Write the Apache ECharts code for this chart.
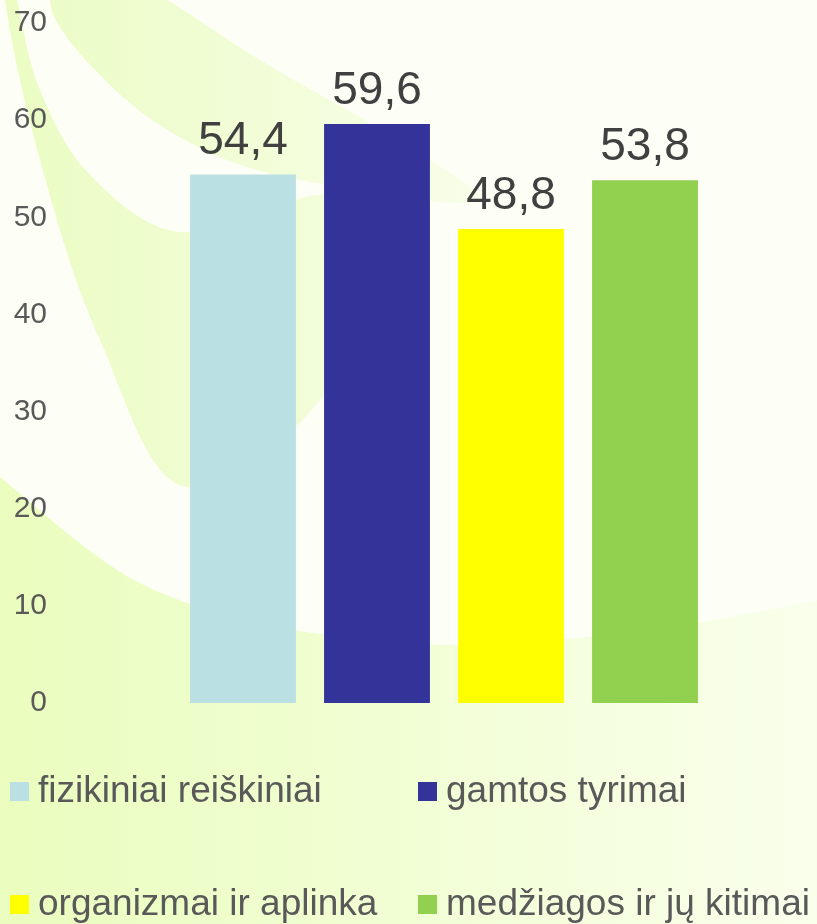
<!DOCTYPE html>
<html>
<head>
<meta charset="utf-8">
<script src="https://cdn.jsdelivr.net/npm/echarts@6/dist/echarts.min.js"></script>
<style>
  html, body { margin: 0; padding: 0; }
  #chart { width: 817px; height: 924px; }
</style>
</head>
<body>
<div id="chart"></div>
<script>
// data
const categories = ["fizikiniai reiškiniai", "gamtos tyrimai", "organizmai ir aplinka", "medžiagos ir jų kitimai"];
const values = [54.4, 59.6, 48.8, 53.8];
const colors = ["#bbe0e3", "#333399", "#ffff00", "#92d050"];
const yTicks = [0, 10, 20, 30, 40, 50, 60, 70];

const myChart = echarts.init(document.getElementById("chart"));

const font = "Liberation Sans, Arial, sans-serif";

// one series per category, stacked so each bar fills its own slot
const series = categories.map(function (name, i) {
  return {
    name: name,
    type: "bar",
    stack: "all",
    barCategoryGap: "21%",
    itemStyle: { color: colors[i] },
    label: {
      show: true,
      position: "top",
      distance: 10,
      fontSize: 46,
      fontFamily: font,
      color: "#404040",
      formatter: function (p) {
        return String(p.value).replace(".", ",");
      }
    },
    data: categories.map(function (c, j) { return j === i ? values[i] : "-"; })
  };
});

// one legend per item so the two columns line up like the original
const legendPos = [
  { left: 10, top: 773 },
  { left: 418, top: 773 },
  { left: 10, top: 886 },
  { left: 418, top: 886 }
];
const legends = categories.map(function (name, i) {
  return {
    left: legendPos[i].left,
    top: legendPos[i].top,
    padding: 0,
    data: [name],
    icon: "rect",
    itemWidth: 19,
    itemHeight: 19,
    itemGap: 0,
    selectedMode: false,
    textStyle: {
      fontSize: 37,
      fontFamily: font,
      color: "#595959",
      padding: [0, 0, 0, 4]
    }
  };
});

// decorative swooshes of the slide background
const hGreen = function (a, b) {
  return {
    type: "linear", x: 0, y: 0, x2: 1, y2: 0,
    colorStops: [{ offset: 0, color: a }, { offset: 1, color: b }]
  };
};
const background = [
  {
    type: "polygon", z: -10, silent: true,
    shape: {
      smooth: 0.3,
      points: [[-60, 420], [0, 477], [134, 580], [268, 625], [450, 645], [650, 630], [817, 600], [880, 585], [880, 990], [-60, 990]]
    },
    style: { fill: hGreen("#e8fdb8", "#fbfff1") }
  },
  {
    type: "polygon", z: -10, silent: true,
    shape: {
      smooth: 0.35,
      points: [[5, 0], [40, 160], [100, 340], [187, 487], [340, 370], [340, 200],
               [180, 232], [90, 175], [40, 90], [17, 0], [11, -30]]
    },
    style: { fill: hGreen("#ebfcc3", "#f3fddc") }
  },
  {
    type: "polygon", z: -10, silent: true,
    shape: {
      smooth: 0.35,
      points: [[50, 0], [110, 85], [200, 148], [300, 180], [480, 200],
               [380, 130], [260, 60], [167, 0], [110, -30]]
    },
    style: { fill: hGreen("#ecfcc8", "#f8fee8") }
  }
];

const option = {
  animation: false,
  backgroundColor: "#fdfff7",
  graphic: background,
  legend: legends,
  grid: { left: 176, right: 105, top: 23, bottom: 221 },
  xAxis: {
    type: "category",
    data: categories,
    axisLine: { show: false },
    axisTick: { show: false },
    axisLabel: { show: false }
  },
  yAxis: {
    type: "value",
    min: yTicks[0],
    max: yTicks[yTicks.length - 1],
    interval: 10,
    splitLine: { show: false },
    axisLine: { show: false },
    axisTick: { show: false },
    axisLabel: {
      margin: 129,
      fontSize: 30,
      fontFamily: font,
      color: "#595959"
    }
  },
  series: series
};

myChart.setOption(option);
</script>
</body>
</html>
